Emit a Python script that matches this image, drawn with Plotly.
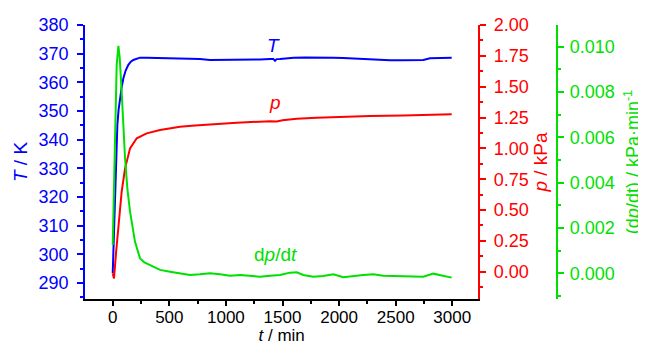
import plotly.graph_objects as go

# ---- data ----
t_T = [0, 10, 20, 30, 41, 52, 64, 79, 94, 115, 138, 160, 182, 210, 241, 300, 400, 506,
       650, 771, 860, 1000, 1095, 1200, 1301, 1390, 1420, 1434, 1448, 1478, 1600, 1700,
       1831, 1950, 2037, 2150, 2273, 2332, 2450, 2567, 2650, 2744, 2803, 2900, 2995]
T_K = [293.5, 307, 321.9, 335, 345.2, 350.5, 354.5, 358.3, 361.4, 364.2, 366.1, 367.2,
       367.8, 368.3, 368.6, 368.6, 368.5, 368.4, 368.3, 368.15, 367.8, 367.8, 367.8, 367.9,
       368.0, 368.1, 368.1, 367.5, 368.1, 368.15, 368.6, 368.7, 368.75, 368.6, 368.5, 368.3,
       368.15, 367.8, 367.7, 367.7, 367.75, 367.8, 368.4, 368.5, 368.6]

t_p = [0, 11, 30, 50, 79, 109, 153, 212, 300, 418, 506, 594, 727, 900, 1095, 1390, 1420,
       1449, 1500, 1625, 1800, 1979, 2273, 2567, 2800, 2995]
p_kPa = [-0.013, -0.054, 0.16, 0.379, 0.649, 0.838, 1.0, 1.082, 1.122, 1.149, 1.163, 1.175,
         1.186, 1.198, 1.208, 1.220, 1.222, 1.218, 1.228, 1.240, 1.248, 1.255, 1.263, 1.266,
         1.27, 1.277]

t_d = [0, 10, 20, 35, 50, 62, 79, 109, 130, 153, 197, 241, 280, 330, 418, 506, 594, 683,
       771, 860, 948, 1036, 1125, 1213, 1301, 1390, 1478, 1566, 1625, 1684, 1772, 1860,
       1949, 2037, 2126, 2214, 2302, 2390, 2479, 2567, 2655, 2744, 2832, 2920, 2995]
dpdt = [0.00125, 0.0038, 0.00654, 0.0092, 0.01004, 0.0095, 0.008, 0.00507, 0.0037, 0.00272,
        0.00139, 0.00066, 0.00048, 0.00037, 0.00015, 0.000072, 0.0, -0.000074, -0.000045,
        0.0, -0.000045, -0.000103, -0.000074, -0.000118, -0.000147, -0.000103, -0.000074,
        0.00003, 0.000044, -0.000074, -0.000147, -0.000118, -0.000045, -0.000177, -0.000118,
        -0.000074, -0.000045, -0.000103, -0.000118, -0.000118, -0.000133, -0.000147,
        -0.000015, -0.000103, -0.00019]

BLUE = "#0000ff"
RED = "#ff0000"
GREEN = "#00e000"
FONT = "Liberation Sans, Arial, sans-serif"

fig = go.Figure()
fig.add_trace(go.Scatter(x=t_T, y=T_K, mode="lines", line=dict(color=BLUE, width=2),
                         yaxis="y", showlegend=False))
fig.add_trace(go.Scatter(x=t_p, y=p_kPa, mode="lines", line=dict(color=RED, width=2),
                         yaxis="y2", showlegend=False))
fig.add_trace(go.Scatter(x=t_d, y=dpdt, mode="lines", line=dict(color=GREEN, width=2),
                         yaxis="y3", showlegend=False))

# page body has an 8px margin, so the figure is 8px smaller and shifted
W, H = 638, 337
ml, mr, mt, mb = 77, 40, 17, 46
pw = W - ml - mr
dx = 393.3 / pw
pos3 = (557.3 - 8 - ml) / pw


def yax(color, rng, dtick, tick0, minor, fmt=None, **kw):
    d = dict(range=rng, dtick=dtick, tick0=tick0, ticks="outside", ticklen=6, tickwidth=1.5,
             tickcolor=color, showline=True, linecolor=color, linewidth=1.5,
             showgrid=False, zeroline=False, automargin=False, ticklabelstandoff=2,
             tickfont=dict(family=FONT, size=18, color=color),
             minor=dict(dtick=minor, tick0=tick0, ticks="outside", ticklen=3,
                        tickcolor=color, tickwidth=1.5, showgrid=False))
    if fmt:
        d["tickformat"] = fmt
    d.update(kw)
    return d


fig.update_layout(
    width=W, height=H, template="none",
    paper_bgcolor="white", plot_bgcolor="white",
    margin=dict(l=ml, r=mr, t=mt, b=mb, pad=0),
    showlegend=False,
    xaxis=dict(domain=[0, dx], range=[-245, 3230], dtick=500, tick0=0,
               ticks="outside", ticklen=5, tickwidth=1.5, tickcolor="black",
               showline=True, linecolor="black", linewidth=1.5, showgrid=False,
               zeroline=False, automargin=False, ticklabelstandoff=-3,
               tickfont=dict(family=FONT, size=17, color="black"),
               minor=dict(dtick=250, tick0=0, ticks="outside", ticklen=3,
                          tickcolor="black", tickwidth=1.5, showgrid=False),
               title=dict(text="<i>t</i> / min", font=dict(family=FONT, size=17, color="black"),
                          standoff=10)),
    yaxis=yax(BLUE, [284.4, 380], 10, 290, 5, ticklabelstandoff=5,
              title=dict(text="<i>T</i> / K", font=dict(family=FONT, size=19, color=BLUE),
                         standoff=6)),
    yaxis2=yax(RED, [-0.221, 2.0], 0.25, 0, 0.125, ".2f", ticklabelstandoff=4,
               overlaying="y", side="right", anchor="x",
               title=dict(text="<i>p</i> / kPa", font=dict(family=FONT, size=19, color=RED),
                          standoff=6)),
    yaxis3=yax(GREEN, [-0.001134, 0.01096], 0.002, 0, 0.001, ".3f",
               overlaying="y", side="right", anchor="free", position=pos3,
               title=dict(text="(d<i>p</i>/dt) / kPa·min<sup>-1</sup>",
                          font=dict(family=FONT, size=18, color=GREEN), standoff=12)),
    annotations=[
        dict(text="<i>T</i>", x=1419, y=373, xref="x", yref="y", showarrow=False,
             font=dict(family=FONT, size=19, color=BLUE)),
        dict(text="<i>p</i>", x=1430, y=1.368, xref="x", yref="y2", showarrow=False,
             font=dict(family=FONT, size=19, color=RED)),
        dict(text="d<i>p</i>/d<i>t</i>", x=1435, y=0.00081, xref="x", yref="y3",
             showarrow=False, font=dict(family=FONT, size=19, color=GREEN)),
    ],
)

fig.write_html("out.html")
